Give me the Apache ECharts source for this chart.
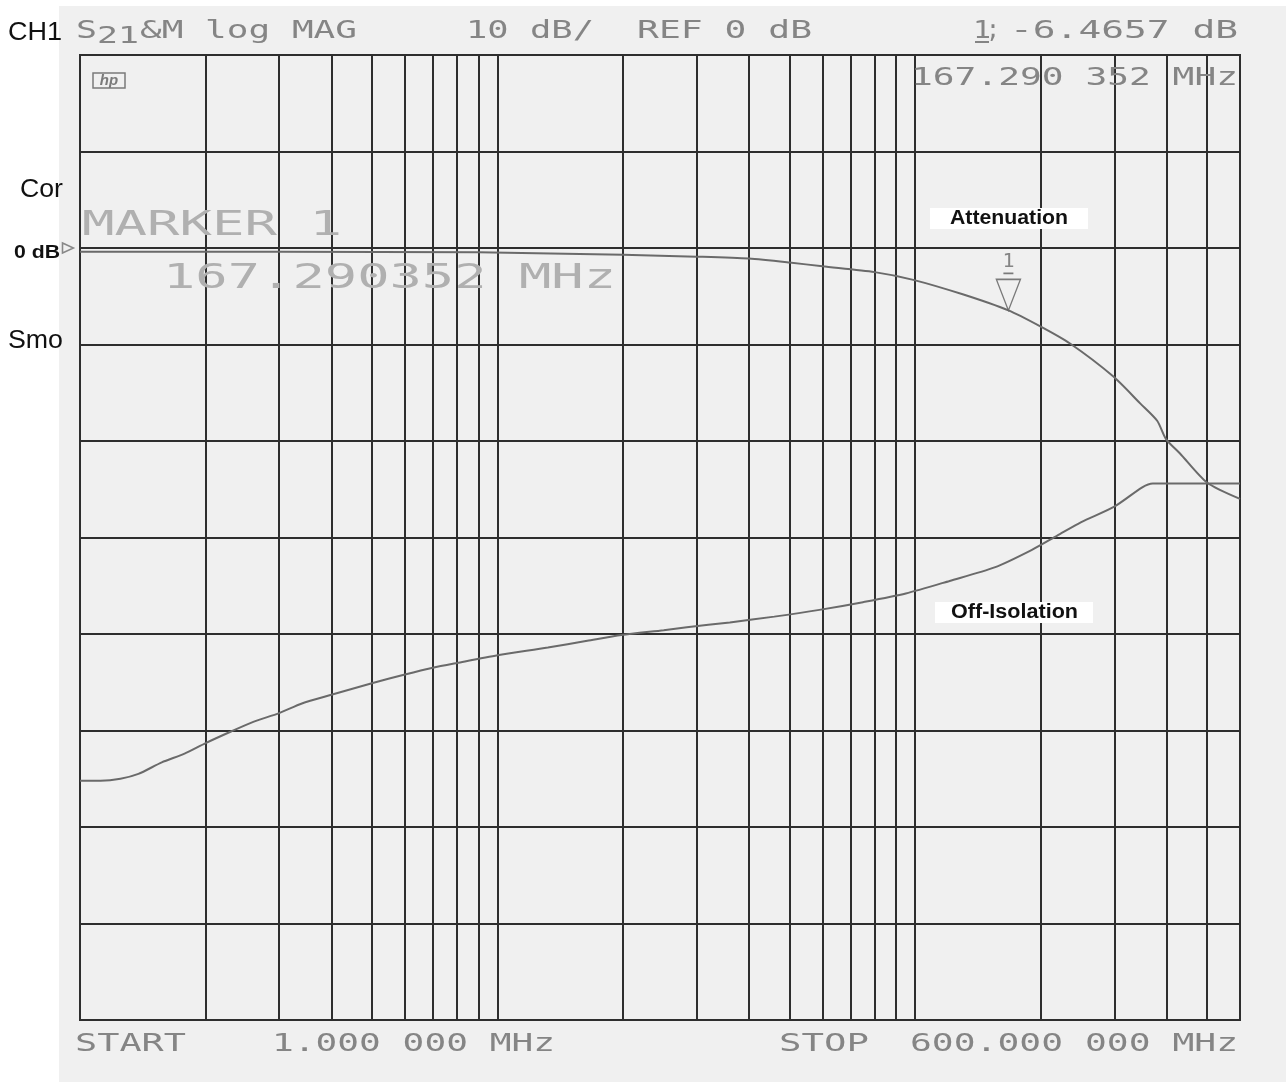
<!DOCTYPE html>
<html><head><meta charset="utf-8">
<script src="https://cdn.jsdelivr.net/npm/echarts@6/dist/echarts.min.js"></script>
<style>html,body{margin:0;padding:0;background:#fff}#c{width:1286px;height:1082px}</style>
</head><body><div id="c"></div>
<script>
// ---- axis setup ----
const freqStart = 1, freqStop = 600;           // MHz, log axis
const dbMin = -80, dbMax = 20, dbStep = 10;     // REF 0 dB, 10 dB/div
const gridFreqs = [2,3,4,5,6,7,8,9,10,20,30,40,50,60,70,80,90,100,200,300,400,500];

// ---- Attenuation (S21, switch ON) ----
const attFreq = [1, 3, 9, 20, 30, 40, 50, 60, 80, 99, 130, 167.290352, 199, 235, 298, 346, 380, 399, 431, 500, 600];
const attDb   = [-0.4, -0.4, -0.45, -0.7, -0.9, -1.1, -1.5, -1.9, -2.5, -3.3, -4.8, -6.4657, -8.1, -9.9, -13.3, -16.1, -17.9, -19.8, -21.3, -24.3, -26.0];

// ---- Off-Isolation (S21, switch OFF) ----
const isoFreq = [1, 1.12, 1.25, 1.38, 1.57, 1.78, 2.0, 2.3, 2.6, 3.0, 3.4, 4.0, 5.0, 6.0, 7.0, 8.0, 10, 13.2, 16.4, 19.8, 25, 28.4, 36, 46, 59, 75, 95, 121, 155, 190, 219, 250, 300, 350, 371, 600];
const isoDb   = [-55.2, -55.2, -55.0, -54.5, -53.3, -52.4, -51.3, -50.1, -49.1, -48.2, -47.2, -46.3, -45.1, -44.2, -43.5, -43.0, -42.2, -41.4, -40.7, -40.1, -39.6, -39.3, -38.8, -38.2, -37.5, -36.7, -35.8, -34.5, -33.1, -31.3, -29.8, -28.4, -26.8, -24.8, -24.4, -24.4];

// ---- marker ----
const markerFreq = 167.290352, markerDb = -6.4657;

const MONO = '"DejaVu Sans Mono"';
const SANS = '"Liberation Sans", Arial, sans-serif';
const ctx = document.createElement('canvas').getContext('2d');
function fit(str, left, right, midY, fs, family, color, weight, extra) {
  ctx.font = (weight || 'normal') + ' ' + fs + 'px ' + family;
  const w = ctx.measureText(str).width;
  return Object.assign({
    type: 'text', x: left, y: midY, scaleX: (right - left) / w, z: 20, silent: true,
    style: { text: str, fontSize: fs, fontFamily: family, fontWeight: weight || 'normal',
             fill: color, align: 'left', verticalAlign: 'middle' }
  }, extra || {});
}
const INK = '#858585', INK2 = '#b0b0b0', BLK = '#111';

const graphics = [
  { type: 'rect', z: -5, silent: true, shape: { x: 59, y: 6, width: 1227, height: 1076 }, style: { fill: '#f0f0f0' } },
  // header
  fit('S', 76, 97, 31, 25, MONO, INK),
  fit('21', 97, 139, 37, 23, MONO, INK),
  fit('&M log MAG', 140, 357, 31, 25, MONO, INK),
  fit('10 dB/', 466, 594, 31, 25, MONO, INK),
  fit('REF 0 dB', 637, 812, 31, 25, MONO, INK),
  fit('1', 973, 991, 31, 25, MONO, INK),
  { type: 'line', z: 20, silent: true, shape: { x1: 975, y1: 42, x2: 989, y2: 42 }, style: { stroke: INK, lineWidth: 2 } },
  fit(';', 986, 1000, 31, 25, MONO, INK),
  fit('-6.4657 dB', 1010, 1238, 31, 25, MONO, INK),
  fit('167.290 352 MHz', 911, 1238, 78, 25, MONO, INK),
  // big marker readout
  fit('MARKER 1', 82, 342, 226, 34, MONO, INK2),
  fit('167.290352 MHz', 163, 616, 279, 34, MONO, INK2),
  // footer
  fit('START', 75, 186, 1044, 25, MONO, INK),
  fit('1.000 000 MHz', 272, 555, 1044, 25, MONO, INK),
  fit('STOP', 779, 869, 1044, 25, MONO, INK),
  fit('600.000 000 MHz', 910, 1238, 1044, 25, MONO, INK),
  // left side labels
  fit('CH1', 8, 62, 33, 25, SANS, BLK),
  fit('Cor', 20, 63, 190, 25, SANS, BLK),
  fit('0 dB', 14, 60, 253, 19, SANS, BLK, 'bold'),
  fit('Smo', 8, 63, 341, 25, SANS, BLK),
  // hp logo
  { type: 'rect', z: 20, silent: true, shape: { x: 93, y: 73, width: 32, height: 15 }, style: { fill: 'none', stroke: '#7a7a7a', lineWidth: 1.5 } },
  { type: 'text', z: 20, silent: true, x: 109, y: 80.5, style: { text: 'hp', fontSize: 15, fontStyle: 'italic', fontWeight: 'bold', fontFamily: SANS, fill: '#7a7a7a', align: 'center', verticalAlign: 'middle' } },
  // trace labels
  { type: 'rect', z: 19, silent: true, shape: { x: 930, y: 208, width: 158, height: 21 }, style: { fill: '#fff' } },
  fit('Attenuation', 950, 1068, 218, 20, SANS, BLK, 'bold'),
  { type: 'rect', z: 19, silent: true, shape: { x: 935, y: 602, width: 158, height: 21 }, style: { fill: '#fff' } },
  fit('Off-Isolation', 951, 1078, 612, 20, SANS, BLK, 'bold')
];

const GRID = '#2e2e2e', TRACE = '#6a6a6a';
const chart = echarts.init(document.getElementById('c'), null, { renderer: 'canvas' });
chart.setOption({
  backgroundColor: '#ffffff',
  animation: false,
  grid: { left: 80, right: 46, top: 55, bottom: 62, show: true, borderColor: GRID, borderWidth: 2, backgroundColor: 'transparent' },
  xAxis: { type: 'log', logBase: 10, min: freqStart, max: freqStop,
    axisLine: { show: false }, axisTick: { show: false }, axisLabel: { show: false }, splitLine: { show: false } },
  yAxis: { type: 'value', min: dbMin, max: dbMax, interval: dbStep,
    axisLine: { show: false }, axisTick: { show: false }, axisLabel: { show: false },
    splitLine: { show: true, lineStyle: { color: GRID, width: 2 } } },
  graphic: graphics,
  series: [
    { name: 'grid', type: 'line', z: 1, silent: true, data: [[freqStart, dbMin]], symbol: 'none',
      lineStyle: { opacity: 0 },
      markLine: { silent: true, symbol: 'none', animation: false, label: { show: false },
        lineStyle: { color: GRID, width: 2, type: 'solid' },
        data: gridFreqs.map(f => ({ xAxis: f })) } },
    { name: 'Attenuation', type: 'line', z: 5, data: attFreq.map((f, i) => [f, attDb[i]]),
      showSymbol: false, symbol: 'none', smooth: 0.25, lineStyle: { color: TRACE, width: 2 },
      markPoint: { silent: true, animation: false, data: [
        { coord: [markerFreq, markerDb], symbol: 'path://M7,0 L17,0 M0,6 L24,6 L12,37 Z', symbolSize: [24, 37],
          symbolOffset: [0, -18.5], itemStyle: { color: 'rgba(0,0,0,0)', borderColor: '#7a7a7a', borderWidth: 1.5 },
          label: { show: true, position: 'top', distance: 1, formatter: '1', color: INK, fontFamily: MONO, fontSize: 20 } },
        { coord: [freqStart, 0], symbol: 'path://M0,0 L11,5 L0,10 Z', symbolSize: [11, 10],
          symbolOffset: [-12, 0], itemStyle: { color: 'rgba(0,0,0,0)', borderColor: '#888', borderWidth: 1.5 },
          label: { show: false } }
      ] } },
    { name: 'Off-Isolation', type: 'line', z: 5, data: isoFreq.map((f, i) => [f, isoDb[i]]),
      showSymbol: false, symbol: 'none', smooth: 0.25, lineStyle: { color: TRACE, width: 2 } }
  ]
});
</script>
</body></html>
